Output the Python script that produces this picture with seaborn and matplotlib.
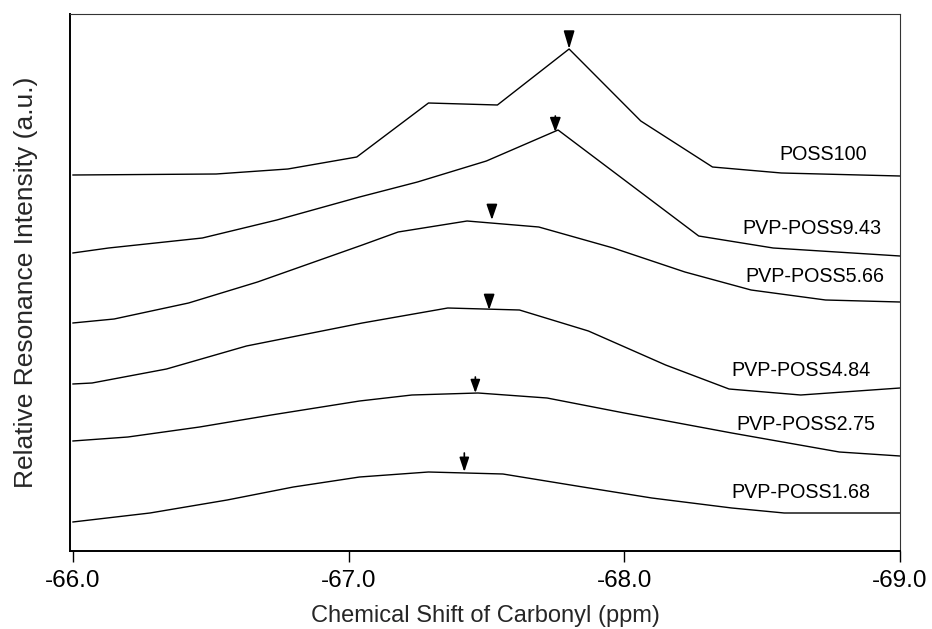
import matplotlib
matplotlib.use("Agg")
import matplotlib.pyplot as plt
import seaborn as sns
import pandas as pd

# ---- data (chemical shift in ppm, offset intensity in a.u.) ----
labels = ["POSS100", "PVP-POSS9.43", "PVP-POSS5.66",
          "PVP-POSS4.84", "PVP-POSS2.75", "PVP-POSS1.68"]

x_poss100 = [-66.0, -66.52, -66.78, -67.03, -67.29, -67.54, -67.80, -68.06, -68.32, -68.57, -69.0]
y_poss100 = [376, 377, 382, 394, 448, 446, 502, 430, 384, 378, 375]

x_943 = [-66.0, -66.13, -66.47, -66.74, -67.04, -67.25, -67.50, -67.76, -68.27, -68.54, -69.0]
y_943 = [298, 303, 313, 331, 354, 369, 390, 421, 315, 303, 295]

x_566 = [-66.0, -66.15, -66.42, -66.67, -67.05, -67.18, -67.43, -67.69, -67.96, -68.22, -68.46, -68.73, -69.0]
y_566 = [228, 232, 248, 269, 306, 319, 330, 324, 303, 279, 261, 251, 249]

x_484 = [-66.0, -66.07, -66.34, -66.63, -67.05, -67.36, -67.62, -67.87, -68.15, -68.38, -68.64, -69.0]
y_484 = [167, 168, 182, 205, 228, 243, 241, 220, 186, 162, 156, 163]

x_275 = [-66.0, -66.20, -66.46, -66.72, -67.04, -67.23, -67.47, -67.72, -68.00, -68.39, -68.78, -69.0]
y_275 = [110, 114, 124, 136, 150, 156, 158, 153, 138, 118, 99, 95]

x_168 = [-66.0, -66.28, -66.56, -66.80, -67.04, -67.29, -67.56, -67.85, -68.10, -68.39, -68.58, -69.0]
y_168 = [29, 38, 51, 64, 74, 79, 77, 64, 53, 43, 38, 38]

# peak markers (arrow tip position)
peak_ppm = [-67.80, -67.75, -67.52, -67.51, -67.46, -67.42]
peak_y = [502, 419, 331, 241, 158, 79]

xticks = [-66.0, -67.0, -68.0, -69.0]
xtick_labels = ["-66.0", "-67.0", "-68.0", "-69.0"]

series_x = [x_poss100, x_943, x_566, x_484, x_275, x_168]
series_y = [y_poss100, y_943, y_566, y_484, y_275, y_168]

frames = []
for lab, xs, ys in zip(labels, series_x, series_y):
    frames.append(pd.DataFrame({"shift": xs, "intensity": ys, "sample": lab}))
df = pd.concat(frames, ignore_index=True)

# ---- styling ----
sns.set_style("ticks")
plt.rcParams["font.family"] = ["Liberation Sans", "DejaVu Sans"]

fig = plt.figure(figsize=(9.32, 6.29), dpi=100)
ax = fig.add_axes([70 / 932, 1 - 551 / 629, 830 / 932, 537 / 629])

sns.lineplot(data=df, x="shift", y="intensity", hue="sample", units="sample",
             estimator=None, palette=["black"] * len(labels), legend=False,
             linewidth=1.0, sort=False, ax=ax)

# arrow styles: (stem length px, head length px, head half-width px)
arrow_geom = [(0, 15, 4.5), (4, 12, 4.5), (0, 13, 4.5), (0, 13, 4.5), (5, 11, 4.0), (7, 12, 4.0)]
px2pt = 72 / 100
for (px_, py_), (stem, hl, hw) in zip(zip(peak_ppm, peak_y), arrow_geom):
    total = stem + hl
    ax.annotate("", xy=(px_, py_), xytext=(px_, py_ + total),
                xycoords="data", textcoords="data",
                arrowprops=dict(arrowstyle=f"-|>,head_length={hl * px2pt},head_width={hw * px2pt}",
                                mutation_scale=1, color="black", lw=1.2,
                                shrinkA=0, shrinkB=0))

# curve labels
label_pos = [(-68.72, 397), (-68.68, 322), (-68.69, 275), (-68.64, 181), (-68.66, 127), (-68.64, 59)]
for lab, (lx, ly) in zip(labels, label_pos):
    ax.text(lx, ly, lab, ha="center", va="center", fontsize=14.2, color="black")

ax.set_xlim(-65.99, -69.0)
ax.set_ylim(0, 537)
ax.set_xticks(xticks)
ax.set_xticklabels(xtick_labels)
ax.set_yticks([])
ax.tick_params(axis="x", direction="out", length=8, width=1.0, labelsize=17.5, pad=6, colors="black")
ax.set_xlabel("Chemical Shift of Carbonyl (ppm)", fontsize=17, labelpad=9)
ax.set_ylabel("Relative Resonance Intensity (a.u.)", fontsize=19, labelpad=23)

for side in ["left", "bottom"]:
    ax.spines[side].set_linewidth(1.4)
    ax.spines[side].set_color("black")
for side in ["top", "right"]:
    ax.spines[side].set_visible(True)
    ax.spines[side].set_linewidth(0.8)
    ax.spines[side].set_color("#333333")

fig.savefig("out.png", dpi=100, facecolor="white")
